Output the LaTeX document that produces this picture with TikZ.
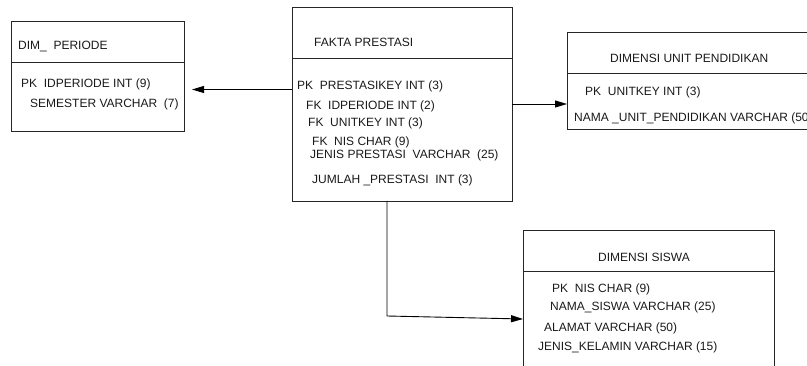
\documentclass[tikz,border=0pt]{standalone}
\usepackage{fontspec}
\setmainfont{Liberation Sans}
\usetikzlibrary{arrows.meta}
\newcommand{\fsz}{\fontsize{12}{14}\selectfont}
\tikzset{
  tbl/.style={draw=black!85, line width=0.9pt, inner sep=0pt, outer sep=0pt, anchor=north west},
  sep/.style={draw=black!85, line width=0.9pt},
  lbl/.style={anchor=west, inner sep=0pt, font=\fsz, text=black!90},
  arr/.style={line width=0.9pt, -{Triangle[length=12pt,width=7pt]}}
}
\begin{document}
\begin{tikzpicture}[x=1pt,y=-1pt]
\useasboundingbox (0,0) rectangle (807,366);
\clip (0,0) rectangle (807,366);
% DIM_PERIODE
\node[tbl, minimum width=173pt, minimum height=110pt] (periode) at (11,21) {};
\draw[sep] (periode.west |- 0,62) -- (periode.east |- 0,62);
\node[lbl] (periodeT) at (18,47) {DIM\_ \ PERIODE};
\node[lbl] (periode1) at (21,84) {PK \ IDPERIODE INT (9)};
\node[lbl] (periode2) at (30,104) {SEMESTER VARCHAR \ (7)};
% FAKTA PRESTASI
\node[tbl, minimum width=220pt, minimum height=194pt] (fakta) at (292,7) {};
\draw[sep] (fakta.west |- 0,58) -- (fakta.east |- 0,58);
\node[lbl] (faktaT) at (314,42) {FAKTA PRESTASI};
\node[lbl] (fakta1) at (297,86) {PK \ PRESTASIKEY INT (3)};
\node[lbl] (fakta2) at (306,106) {FK \ IDPERIODE INT (2)};
\node[lbl] (fakta3) at (308,123) {FK \ UNITKEY INT (3)};
\node[lbl] (fakta4) at (312,142) {FK \ NIS CHAR (9)};
\node[lbl] (fakta5) at (310,155) {JENIS PRESTASI \ VARCHAR \ (25)};
\node[lbl] (fakta6) at (312,180) {JUMLAH \_PRESTASI \ INT (3)};
% DIMENSI UNIT PENDIDIKAN
\node[tbl, minimum width=260pt, minimum height=97pt] (unit) at (567,32) {};
\draw[sep] (unit.west |- 0,73) -- (unit.east |- 0,73);
\node[lbl] (unitT) at (610,58) {DIMENSI UNIT PENDIDIKAN};
\node[lbl] (unit1) at (585,92) {PK \ UNITKEY INT (3)};
\node[lbl] (unit2) at (574,118) {NAMA \_UNIT\_PENDIDIKAN VARCHAR (50};
% DIMENSI SISWA
\node[tbl, minimum width=251pt, minimum height=160pt] (siswa) at (523,230) {};
\draw[sep] (siswa.west |- 0,271) -- (siswa.east |- 0,271);
\node[lbl] (siswaT) at (598,257) {DIMENSI SISWA};
\node[lbl] (siswa1) at (552,289) {PK \ NIS CHAR (9)};
\node[lbl] (siswa2) at (550,307) {NAMA\_SISWA VARCHAR (25)};
\node[lbl] (siswa3) at (544,328) {ALAMAT VARCHAR (50)};
\node[lbl] (siswa4) at (538,347) {JENIS\_KELAMIN VARCHAR (15)};
% connectors
\draw[arr] (fakta.west |- 0,89.5) -- ([xshift=8pt]periode.east |- 0,89.5);
\draw[arr] (fakta.east |- 0,104) -- (unit.west |- 0,104);
\coordinate (bend) at (387,316);
\draw[arr] (fakta.south -| bend) -- (bend) -- (siswa.west |- 0,319);
\end{tikzpicture}
\end{document}
